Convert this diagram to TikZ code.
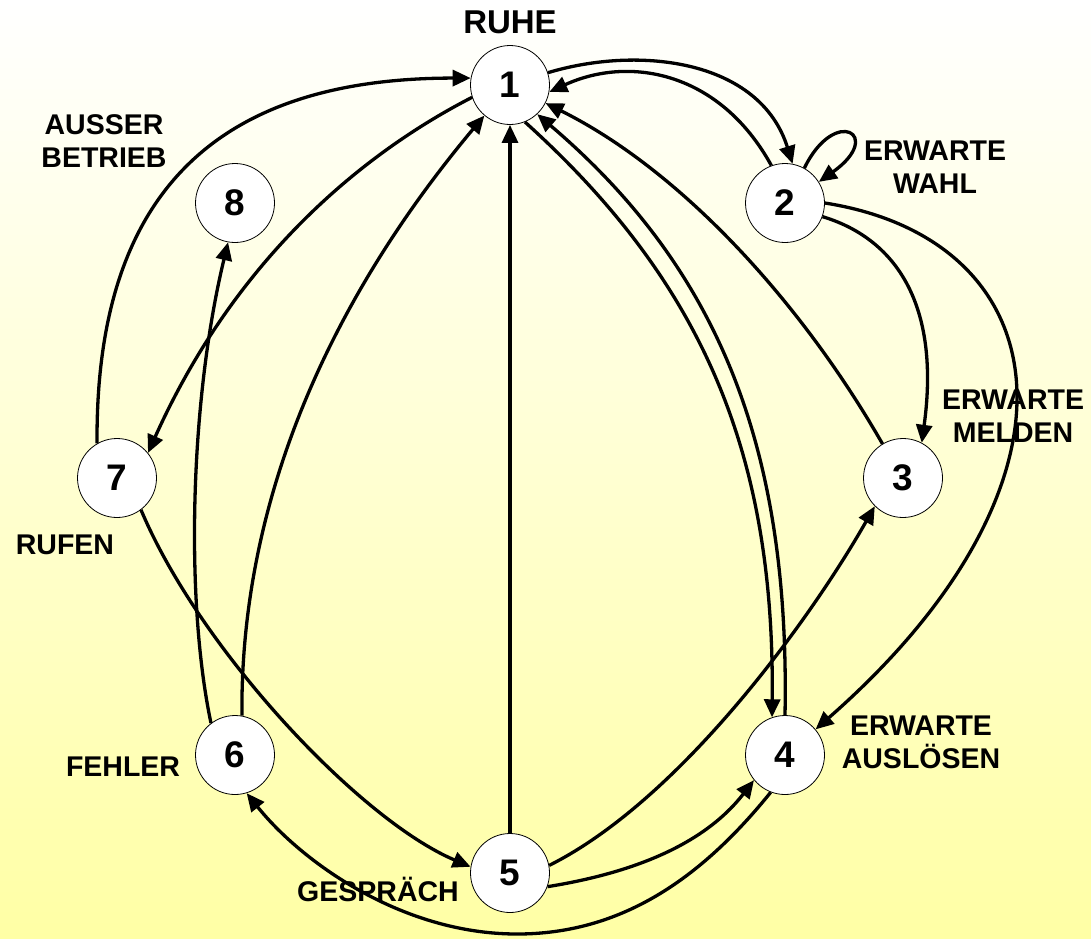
\documentclass[tikz,border=0pt]{standalone}
\usepackage{fontspec}
\setmainfont{Liberation Sans}
\usetikzlibrary{arrows.meta}
\begin{document}
\begin{tikzpicture}[x=1pt,y=-1pt,
  state/.style={circle, draw=black, line width=0.8pt, fill=white, minimum size=79pt, inner sep=0pt, font=\fontsize{37}{40}\selectfont\bfseries},
  lbl/.style={font=\fontsize{28.5}{33}\selectfont\bfseries, align=center, inner sep=0pt},
  edge/.style={line width=3.3pt, -{Triangle[length=18pt,width=16pt]}}]
\shade[top color=white, middle color={rgb,255:red,255;green,255;blue,226}, bottom color={rgb,255:red,255;green,255;blue,165}] (0,0) rectangle (1091,938);
\useasboundingbox (0,0) rectangle (1091,938);

\node[state] (n1) at (510,85) {1};
\node[state] (n2) at (785,203) {2};
\node[state] (n3) at (903,478) {3};
\node[state] (n4) at (785,755) {4};
\node[state] (n5) at (510,873) {5};
\node[state] (n6) at (235,755) {6};
\node[state] (n7) at (117,478) {7};
\node[state] (n8) at (235,203) {8};

\draw[edge] (n1.18) .. controls (640,45) and (760,60) .. (n2.79);
\draw[edge] (n2.110) .. controls (720,72) and (630,55) .. (n1.-10);
\draw[edge] (n2.61) .. controls (835,105) and (885,135) .. (n2.32);
\draw[edge] (n2.-20) .. controls (900,240) and (940,310) .. (n3.62);
\draw[edge] (n2.0) .. controls (1060,240) and (1100,480) .. (n4.40);
\draw[edge] (n3.121) .. controls (800,300) and (680,170) .. (n1.-27);
\draw[edge] (n1.-68) .. controls (700,280) and (775,450) .. (n4.109);
\draw[edge] (n4.90) .. controls (790,450) and (720,270) .. (n1.-47);
\draw[edge] (n5.north) -- (n1.south);
\draw[edge] (n5.11) .. controls (680,800) and (810,620) .. (n3.225);
\draw[edge] (n5.-20) .. controls (620,875) and (700,850) .. (n4.219);
\coordinate (bot) at (517,934);
\draw[edge] (n4.249) .. controls (700,880) and (620,934) .. (bot) .. controls (400,934) and (300,860) .. (n6.-73);
\draw[edge] (n6.127) .. controls (185,600) and (190,400) .. (n8.260);
\draw[edge] (n6.80) .. controls (240,500) and (330,300) .. (n1.230);
\draw[edge] (n7.120) .. controls (95,180) and (230,78) .. (n1.170);
\draw[edge] (n1.198) .. controls (350,160) and (230,270) .. (n7.39);
\draw[edge] (n7.-53) .. controls (200,650) and (360,820) .. (n5.171);

\node[lbl, font=\fontsize{33}{38}\selectfont\bfseries] (lruhe) at (510,22) {RUHE};
\node[lbl] (lwahl) at (935,167) {ERWARTE\\WAHL};
\node[lbl] (lmelden) at (1013,416) {ERWARTE\\MELDEN};
\node[lbl] (lausl) at (921,742) {ERWARTE\\AUSLÖSEN};
\node[lbl] (lgespr) at (378,889) {GESPRÄCH};
\node[lbl] (lfehler) at (123,767) {FEHLER};
\node[lbl] (lrufen) at (65,545) {RUFEN};
\node[lbl] (lausser) at (104,141) {AUSSER\\BETRIEB};
\end{tikzpicture}
\end{document}
